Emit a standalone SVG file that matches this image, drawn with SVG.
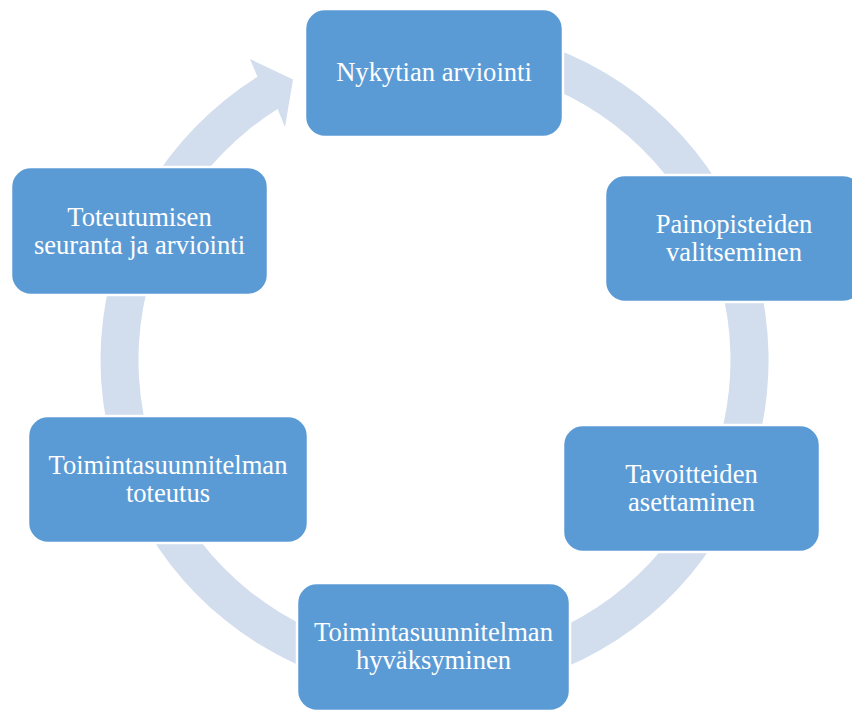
<svg xmlns="http://www.w3.org/2000/svg" width="852" height="711" viewBox="0 0 852 711">
  <style>
    .box { fill: #5B9BD5; stroke: #FFFFFF; stroke-width: 2.5; }
    .lbl { fill: #FFFFFF; font-family: "Liberation Serif", "Times New Roman", serif; font-size: 26.6px; text-anchor: middle; }
    .ring { fill: #D2DDEE; stroke: none; }
  </style>
  <rect width="852" height="711" fill="#FFFFFF"/>
  <g id="connectors">
    <path class="ring" d="M 434.5 26 A 334 334 0 1 1 257.5 76.8 L 250 59 L 293 79.5 L 285 127 L 277.6 109 A 296 296 0 1 0 434.5 64 Z"/>
  </g>
  <g id="node1">
    <rect class="box" x="305" y="9" width="258" height="128" rx="20"/>
    <text class="lbl" x="434" y="81">Nykytian arviointi</text>
  </g>
  <g id="node2">
    <rect class="box" x="605" y="175" width="258" height="127" rx="20"/>
    <text class="lbl" x="734" y="233">Painopisteiden</text>
    <text class="lbl" x="734" y="261">valitseminen</text>
  </g>
  <g id="node3">
    <rect class="box" x="563" y="425" width="257" height="127" rx="20"/>
    <text class="lbl" x="691.5" y="483">Tavoitteiden</text>
    <text class="lbl" x="691.5" y="511">asettaminen</text>
  </g>
  <g id="node4">
    <rect class="box" x="297" y="583" width="273" height="128" rx="20"/>
    <text class="lbl" x="433.5" y="641">Toimintasuunnitelman</text>
    <text class="lbl" x="433.5" y="669">hyväksyminen</text>
  </g>
  <g id="node5">
    <rect class="box" x="28" y="416" width="280" height="127" rx="20"/>
    <text class="lbl" x="168" y="473.5">Toimintasuunnitelman</text>
    <text class="lbl" x="168" y="501.5">toteutus</text>
  </g>
  <g id="node6">
    <rect class="box" x="11" y="167" width="257" height="128" rx="20"/>
    <text class="lbl" x="139.5" y="225.5">Toteutumisen</text>
    <text class="lbl" x="139.5" y="253.5">seuranta ja arviointi</text>
  </g>
</svg>
